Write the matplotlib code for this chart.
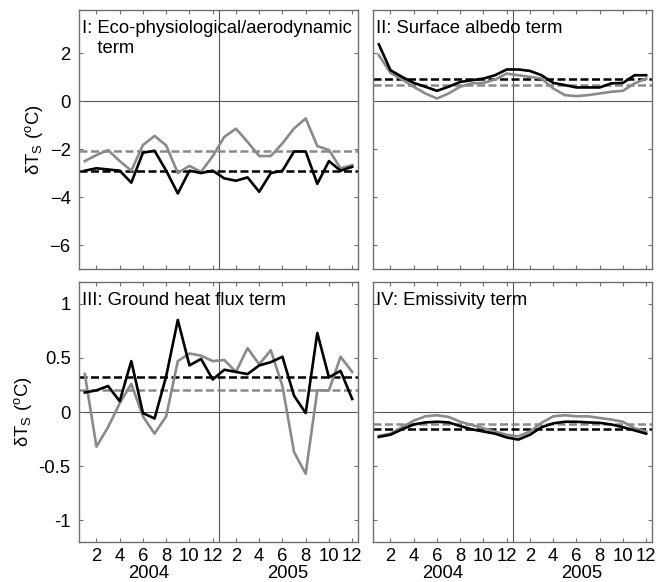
import matplotlib
matplotlib.use("Agg")
import matplotlib.pyplot as plt
import matplotlib.transforms as mtransforms

plt.rcParams['font.family'] = ['Liberation Sans', 'DejaVu Sans']
plt.rcParams['mathtext.fontset'] = 'custom'
plt.rcParams['mathtext.rm'] = 'Liberation Sans'
plt.rcParams['mathtext.it'] = 'Liberation Sans:italic'

months = list(range(1, 25))
tick_pos = list(range(2, 25, 2))
tick_labels = ['2', '4', '6', '8', '10', '12', '2', '4', '6', '8', '10', '12']
years = ['2004', '2005']
year_pos = [6.5, 18.5]

# Panel I: Eco-physiological/aerodynamic term
eco_black = [-2.9, -2.8, -2.85, -2.9, -3.4, -2.15, -2.07, -2.9, -3.85, -2.9, -3.0, -2.9,
             -3.22, -3.32, -3.18, -3.78, -3.0, -2.9, -2.1, -2.1, -3.45, -2.5, -2.9, -2.74]
eco_gray = [-2.5, -2.25, -2.04, -2.5, -2.9, -1.83, -1.45, -1.85, -3.0, -2.7, -2.95, -2.3,
            -1.49, -1.15, -1.7, -2.29, -2.29, -1.76, -1.14, -0.72, -1.875, -2.04, -2.8, -2.67]
eco_mean_black = -2.9
eco_mean_gray = -2.08

# Panel II: Surface albedo term
alb_black = [2.37, 1.29, 1.01, 0.76, 0.6, 0.43, 0.6, 0.8, 0.87, 0.94, 1.08, 1.32,
             1.32, 1.26, 1.08, 0.76, 0.67, 0.57, 0.57, 0.57, 0.74, 0.76, 1.08, 1.08]
alb_gray = [1.92, 1.18, 0.9, 0.6, 0.32, 0.11, 0.32, 0.6, 0.74, 0.76, 0.9, 1.15,
            1.08, 1.01, 0.94, 0.53, 0.25, 0.21, 0.25, 0.32, 0.39, 0.43, 0.74, 0.94]
alb_mean_black = 0.94
alb_mean_gray = 0.67

# Panel III: Ground heat flux term
gh_black = [0.18, 0.2, 0.24, 0.1, 0.47, -0.01, -0.06, 0.33, 0.85, 0.43, 0.49, 0.3,
            0.39, 0.37, 0.35, 0.43, 0.46, 0.51, 0.15, -0.01, 0.73, 0.32, 0.38, 0.12]
gh_gray = [0.35, -0.32, -0.14, 0.08, 0.26, -0.04, -0.2, -0.04, 0.47, 0.54, 0.52, 0.47,
           0.48, 0.37, 0.59, 0.44, 0.57, 0.24, -0.37, -0.57, 0.2, 0.2, 0.51, 0.37]
gh_mean_black = 0.32
gh_mean_gray = 0.2

# Panel IV: Emissivity term
em_black = [-0.23, -0.21, -0.16, -0.115, -0.096, -0.09, -0.096, -0.13, -0.16, -0.18, -0.2, -0.235,
            -0.255, -0.21, -0.14, -0.105, -0.09, -0.09, -0.096, -0.1, -0.115, -0.14, -0.17, -0.2]
em_gray = [-0.22, -0.2, -0.14, -0.08, -0.04, -0.03, -0.045, -0.09, -0.12, -0.15, -0.18, -0.21,
           -0.225, -0.18, -0.1, -0.04, -0.03, -0.04, -0.04, -0.055, -0.07, -0.09, -0.15, -0.18]
em_mean_black = -0.16
em_mean_gray = -0.11

titles = ['I: Eco-physiological/aerodynamic\n   term', 'II: Surface albedo term',
          'III: Ground heat flux term', 'IV: Emissivity term']

W, H = 665, 582
fig = plt.figure(figsize=(W / 100, H / 100), dpi=100)

def rect(l, t, r, b):
    return [l / W, 1 - b / H, (r - l) / W, (b - t) / H]

axes = [
    fig.add_axes(rect(79, 10, 358, 269)),
    fig.add_axes(rect(373, 10, 652, 269)),
    fig.add_axes(rect(79, 282, 358, 542)),
    fig.add_axes(rect(373, 282, 652, 542)),
]

data = [
    (eco_black, eco_gray, eco_mean_black, eco_mean_gray),
    (alb_black, alb_gray, alb_mean_black, alb_mean_gray),
    (gh_black, gh_gray, gh_mean_black, gh_mean_gray),
    (em_black, em_gray, em_mean_black, em_mean_gray),
]

spine_col = '#707070'
gray_col = '#8a8a8a'
fs = 13.3

for i, ax in enumerate(axes):
    b, g, mb, mg = data[i]
    ax.axhline(0, color='#555555', lw=0.8, zorder=1)
    ax.axvline(12.5, color='#555555', lw=0.8, zorder=1)
    ax.axhline(mg, color=gray_col, lw=1.8, dashes=(3.2, 1.4), zorder=2)
    ax.axhline(mb, color='black', lw=1.8, dashes=(3.2, 1.4), zorder=2)
    ax.plot(months, g, color=gray_col, lw=1.9, zorder=3)
    ax.plot(months, b, color='black', lw=1.9, zorder=4)
    ax.set_xlim(0.5, 24.5)
    if i < 2:
        ax.set_ylim(-7, 3.8)
        ax.set_yticks([-6, -4, -2, 0, 2])
    else:
        ax.set_ylim(-1.2, 1.2)
        ax.set_yticks([-1, -0.5, 0, 0.5, 1])
        ax.set_yticklabels(['-1', '-0.5', '0', '0.5', '1'])
    ax.set_xticks(tick_pos)
    for s in ax.spines.values():
        s.set_color(spine_col)
        s.set_linewidth(1.0)
    ax.tick_params(direction='in', length=3, width=0.8, color=spine_col,
                   top=True, right=True, labelsize=fs)
    ax.tick_params(axis='x', pad=4)
    ax.tick_params(axis='y', pad=6)
    if i >= 2:
        ax.set_xticklabels(tick_labels)
        trans = mtransforms.blended_transform_factory(ax.transData, ax.transAxes)
        for yp, yl in zip(year_pos, years):
            ax.text(yp, -0.122, yl, transform=trans, ha='center', va='center', fontsize=fs)
    else:
        ax.set_xticklabels([])
    if i % 2 == 1:
        ax.set_yticklabels([])
    else:
        ax.set_ylabel('δT$_\\mathrm{S}$ ($^\\mathrm{o}$C)', fontsize=fs, labelpad=3)
    ax.text(0.012, 0.962, titles[i], transform=ax.transAxes, ha='left', va='top',
            fontsize=fs, linespacing=1.25)

fig.savefig('out.png', dpi=100)
